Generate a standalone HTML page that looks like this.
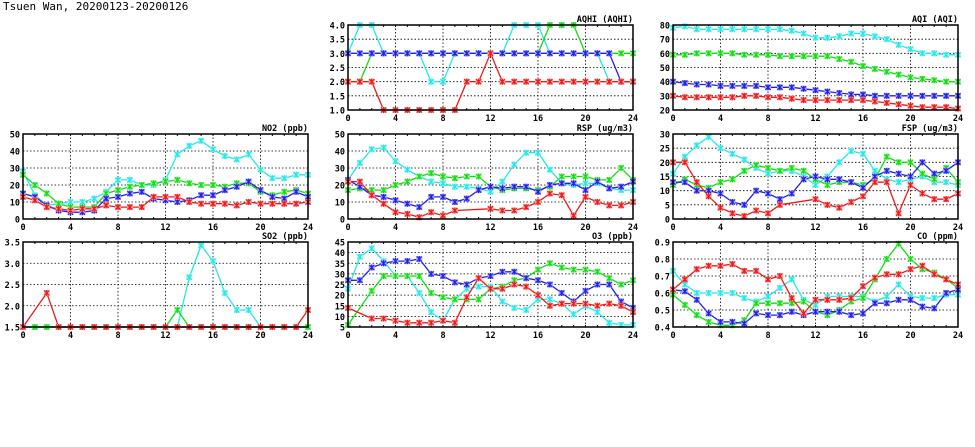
<!DOCTYPE html>
<html><head><meta charset="utf-8"><style>
body{margin:0;background:#fff;width:975px;height:447px;overflow:hidden}
svg{display:block}
text{font-family:"DejaVu Sans Mono","Liberation Mono",monospace;font-weight:bold;fill:#000}
</style></head><body>
<svg id="s" width="975" height="447" xmlns="http://www.w3.org/2000/svg">
<text x="3" y="10" style="font-size:11px;font-weight:normal;font-family:'DejaVu Sans Mono','Liberation Mono',monospace">Tsuen Wan, 20200123-20200126</text>
</svg>
<script>
var n=null;
var P=[
{t:"AQHI (AQHI)",x:348,y:25,min:1,max:4,st:0.5,dec:1,d:{
c:[3,4,4,3,3,3,3,2,2,3,3,3,3,3,4,4,4,3,3,3,3,3,2,2,2],
g:[2,2,3,3,3,3,3,3,3,3,3,3,3,3,3,3,3,4,4,4,3,3,3,3,3],
b:[3,3,3,3,3,3,3,3,3,3,3,3,3,3,3,3,3,3,3,3,3,3,3,2,2],
r:[2,2,2,1,1,1,1,1,1,1,2,2,3,2,2,2,2,2,2,2,2,2,2,2,2]}},
{t:"AQI (AQI)",x:673,y:25,min:20,max:80,st:10,dec:0,d:{
c:[78,79,77,77,77,77,77,77,77,77,76,74,71,71,72,74,74,72,70,66,63,60,60,59,59],
g:[59,59,60,60,60,60,59,59,59,58,58,58,58,58,56,54,51,49,47,45,43,42,41,40,40],
b:[40,39,38,38,37,37,37,37,36,36,36,35,34,33,32,31,31,30,30,30,30,30,30,30,30],
r:[30,29,29,29,29,29,30,30,29,29,28,27,27,27,27,27,27,26,25,24,23,22,22,22,21]}},
{t:"NO2 (ppb)",x:23,y:134,min:0,max:50,st:10,dec:0,d:{
c:[28,14,8,9,10,10,12,16,23,23,20,20,23,38,43,46,41,37,35,38,29,24,24,26,26],
g:[26,20,15,9,7,7,7,15,17,19,20,21,22,23,21,20,20,19,21,21,16,14,16,17,15],
b:[15,13,8,5,4,4,5,12,13,15,16,12,11,10,11,14,14,17,19,22,17,13,12,16,13],
r:[13,11,7,6,5,6,6,8,7,7,7,13,13,13,10,9,9,9,8,10,9,9,9,9,10]}},
{t:"RSP (ug/m3)",x:348,y:134,min:0,max:50,st:10,dec:0,d:{
c:[23,33,41,42,34,29,25,22,21,19,19,18,16,22,32,39,39,29,21,20,21,21,18,17,17],
g:[17,18,17,17,20,22,25,27,25,24,25,25,19,17,18,18,17,19,25,25,25,23,23,30,23],
b:[23,19,14,13,11,9,7,13,13,10,12,17,19,18,19,19,16,20,21,21,17,22,18,19,22],
r:[22,22,14,9,4,3,1,4,2,5,n,n,6,5,5,7,10,15,14,2,13,10,8,8,10]}},
{t:"FSP (ug/m3)",x:673,y:134,min:0,max:30,st:5,dec:0,d:{
c:[16,22,26,29,25,23,21,18,16,17,17,15,12,15,20,24,23,17,14,13,14,15,13,13,12],
g:[12,14,12,11,13,14,17,19,18,17,18,17,14,12,13,13,12,14,22,20,20,16,14,18,13],
b:[13,13,10,10,9,6,5,10,9,7,9,14,15,14,14,13,11,15,17,16,15,20,16,17,20],
r:[20,20,13,8,4,2,1,3,2,5,n,n,7,5,4,6,8,13,13,2,12,9,7,7,9]}},
{t:"SO2 (ppb)",x:23,y:242,min:1.5,max:3.5,st:0.5,dec:1,d:{
b:[1.5,1.5,1.5,1.5,1.5,1.5,1.5,1.5,1.5,1.5,1.5,1.5,1.5,1.5,1.5,1.5,1.5,1.5,1.5,1.5,1.5,1.5,1.5,1.5,1.5],
c:[1.5,1.5,1.5,1.5,1.5,1.5,1.5,1.5,1.5,1.5,1.5,1.5,1.5,1.5,2.67,3.42,3.05,2.3,1.9,1.9,1.5,1.5,1.5,1.5,1.5],
g:[1.5,1.5,1.5,1.5,1.5,1.5,1.5,1.5,1.5,1.5,1.5,1.5,1.5,1.9,1.5,1.5,1.5,1.5,1.5,1.5,1.5,1.5,1.5,1.5,1.5],
r:[1.5,n,2.3,1.5,1.5,1.5,1.5,1.5,1.5,1.5,1.5,1.5,1.5,1.5,1.5,1.5,1.5,1.5,1.5,1.5,1.5,1.5,1.5,1.5,1.9]},order:["b","c","g","r"]},
{t:"O3 (ppb)",x:348,y:242,min:5,max:45,st:5,dec:0,d:{
c:[23,38,42,36,29,29,21,12,8,18,23,24,24,17,14,13,18,18,16,11,15,12,7,6,6],
g:[6,n,22,29,29,29,29,21,19,18,18,18,23,24,27,28,32,35,33,32,32,31,28,25,27],
b:[27,27,33,35,36,36,37,30,29,26,25,28,29,31,31,28,27,25,21,17,22,25,25,17,14],
r:[14,n,9,9,8,7,7,7,8,7,19,28,23,23,25,24,20,15,16,16,16,15,16,15,12]}},
{t:"CO (ppm)",x:673,y:242,min:0.4,max:0.9,st:0.1,dec:1,d:{
c:[.73,.65,.60,.60,.60,.60,.57,.55,.58,.63,.68,.56,.53,.58,.58,.58,.58,.55,.58,.65,.58,.57,.57,.59,.59],
g:[.59,.53,.47,.43,.41,.41,.44,.54,.54,.54,.54,.55,.49,.47,.50,.55,.57,.68,.80,.89,.80,.74,.72,.68,.63],
b:[.62,.61,.56,.48,.43,.43,.42,.48,.47,.47,.49,.47,.49,.49,.49,.47,.48,.54,.54,.56,.56,.52,.51,.60,.62],
r:[.62,.68,.74,.76,.76,.77,.73,.73,.68,.70,.57,.48,.56,.56,.56,.57,.64,.69,.71,.71,.74,.76,.71,.68,.65]}}
];
var COL={c:"#22e8e8",g:"#10dd10",b:"#2020e8",r:"#f01818"};
var LT={c:"#b0f4f4",g:"#a8f0a8",b:"#a8a8f4",r:"#f4a8a8"};
var W=285,H=85,h="";
P.forEach(function(p){
 var X=function(i){return p.x+i*W/24},Y=function(v){return p.y+H-(v-p.min)/(p.max-p.min)*H};
 for(var k=4;k<24;k+=4)h+='<line x1="'+X(k)+'" y1="'+p.y+'" x2="'+X(k)+'" y2="'+(p.y+H)+'" stroke="#000" stroke-width="0.8" stroke-dasharray="1.5,2"/>';
 for(var v=p.min;v<=p.max+1e-9;v+=p.st){var yy=Y(v);
  if(v>p.min+1e-9&&v<p.max-1e-9)h+='<line x1="'+p.x+'" y1="'+yy+'" x2="'+(p.x+W)+'" y2="'+yy+'" stroke="#000" stroke-width="0.8" stroke-dasharray="1.5,2"/>';
  h+='<text x="'+(p.x-3)+'" y="'+(yy+3.5)+'" text-anchor="end" font-size="8.5">'+v.toFixed(p.dec)+'</text>';}
 for(var k=0;k<=24;k+=4)h+='<text x="'+X(k)+'" y="'+(p.y+H+11)+'" text-anchor="middle" font-size="8.5">'+k+'</text>';
 for(var k=1;k<24;k++){h+='<line x1="'+X(k)+'" y1="'+(p.y+H)+'" x2="'+X(k)+'" y2="'+(p.y+H-2)+'" stroke="#000"/><line x1="'+X(k)+'" y1="'+p.y+'" x2="'+X(k)+'" y2="'+(p.y+2)+'" stroke="#000"/>';}
 h+='<text x="'+(p.x+W)+'" y="'+(p.y-3)+'" text-anchor="end" font-size="8.5">'+p.t+'</text>';
 (p.order||["c","g","b","r"]).forEach(function(s){
  var a=p.d[s],pts=[];
  a.forEach(function(v,i){if(v!==null)pts.push([X(i),Y(v)])});
  h+='<polyline fill="none" stroke="'+COL[s]+'" stroke-width="1.3" points="'+pts.map(function(q){return q[0].toFixed(1)+','+q[1].toFixed(1)}).join(' ')+'"/>';
  pts.forEach(function(q){var x=q[0],y=q[1];
   h+='<rect x="'+(x-3)+'" y="'+(y-3)+'" width="6" height="6" fill="'+LT[s]+'"/>';
   h+='<path d="M'+(x-2.5)+' '+(y-2.5)+'L'+(x+2.5)+' '+(y+2.5)+'M'+(x-2.5)+' '+(y+2.5)+'L'+(x+2.5)+' '+(y-2.5)+'M'+x+' '+(y-3)+'V'+(y+3)+'" stroke="'+COL[s]+'" stroke-width="1.2"/>';});
 });
 h+='<rect x="'+p.x+'" y="'+p.y+'" width="'+W+'" height="'+H+'" fill="none" stroke="#000" stroke-width="1.5"/>';
});
document.getElementById("s").insertAdjacentHTML("beforeend",h);
</script>
</body></html>
